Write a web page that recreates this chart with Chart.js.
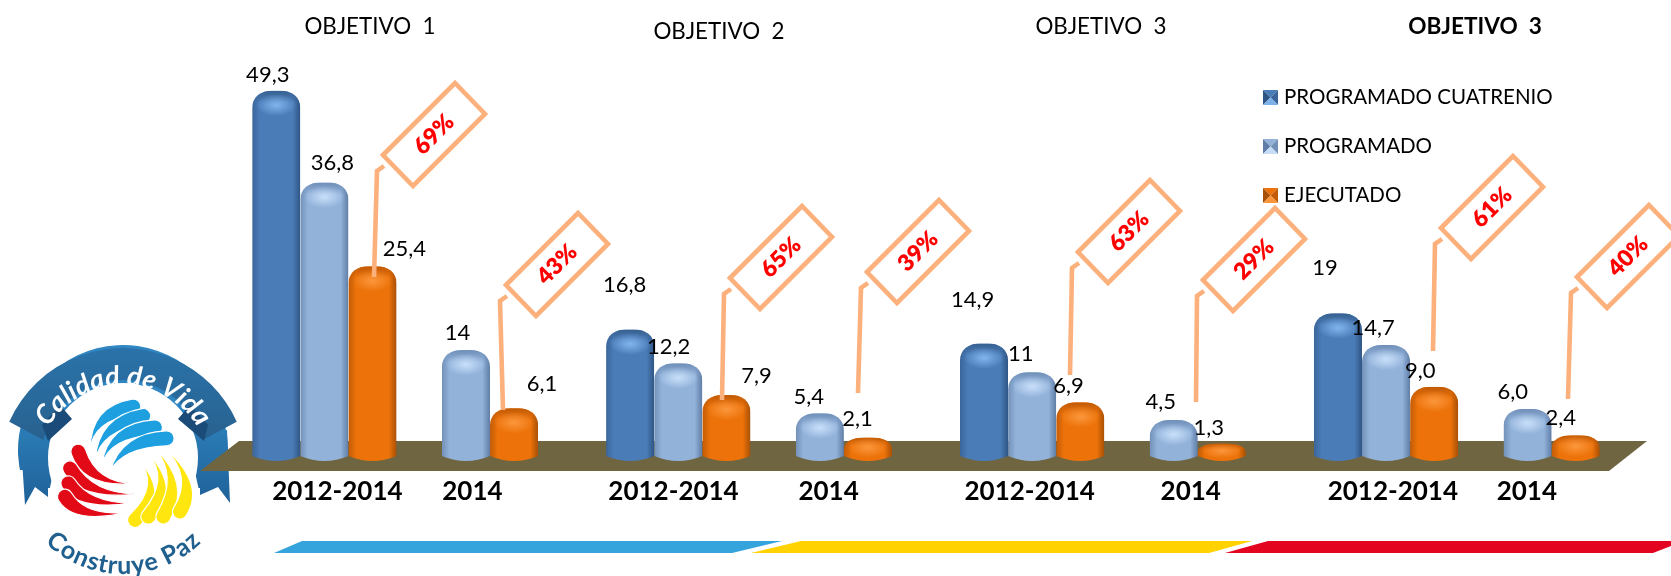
<!DOCTYPE html>
<html>
<head>
<meta charset="utf-8">
<title>Objetivos</title>
<script src="https://cdn.jsdelivr.net/npm/chart.js@4"></script>
<style>
  html, body { margin: 0; padding: 0; background: #fff; }
  canvas { display: block; }
</style>
</head>
<body>
<canvas id="chart" width="1671" height="576"></canvas>
<script>
// Data
const categories = ['2012-2014', '', '2014', '', '', '2012-2014', '', '2014', '', '', '2012-2014', '', '2014', '', '', '2012-2014', '', '2014'];
const programadoCuatrenio = [49.3, null, null, null, null, 16.8, null, null, null, null, 14.9, null, null, null, null, 19, null, null];
const programado = [36.8, null, 14, null, null, 12.2, null, 5.4, null, null, 11, null, 4.5, null, null, 14.7, null, 6.0];
const ejecutado = [25.4, null, 6.1, null, null, 7.9, null, 2.1, null, null, 6.9, null, 1.3, null, null, 9.0, null, 2.4];

const cuatrenioLabels = ['49,3', '16,8', '14,9', '19'];
const programadoLabels = ['36,8', '14', '12,2', '5,4', '11', '4,5', '14,7', '6,0'];
const ejecutadoLabels = ['25,4', '6,1', '7,9', '2,1', '6,9', '1,3', '9,0', '2,4'];
const percentLabels = ['69%', '43%', '65%', '39%', '63%', '29%', '61%', '40%'];
const objetivos = ['OBJETIVO  1', 'OBJETIVO  2', 'OBJETIVO  3', 'OBJETIVO  3'];

// Hand placement of the text boxes, the original slide has them loose
const labelNudges = [
    [[-8.5, -15.6], [-5.6, -44.5], [-11.3, -43.5], [-13, -45]],
    [[8, -19.5], [-8.5, -17], [-9.75, -16], [-11, -16], [-11.5, -18], [-13, -18], [-13, -17], [-14.75, -17]],
    [[31.8, -17], [28, -24], [30, -19], [-10.4, -18.6], [-11.7, -16], [-13, -16], [-14, -16], [-15, -17]]
];
const tickNudges = [13, 6.5, -4.75, 8.75, -2.5, 17, 6.75, -0.75];
const titleSpots = [[370, 27, false], [719, 32, false], [1101, 27, false], [1475, 27, true]];
const callouts = [
    { ax: 383, ay: 155, bx: 374, by: 277 },
    { ax: 506, ay: 285, bx: 503, by: 410 },
    { ax: 730, ay: 278, bx: 722, by: 400 },
    { ax: 867, ay: 272, bx: 858, by: 393 },
    { ax: 1078, ay: 252, bx: 1070, by: 375 },
    { ax: 1203, ay: 280, bx: 1196, by: 402 },
    { ax: 1441, ay: 228, bx: 1433, by: 351 },
    { ax: 1577, ay: 277, bx: 1568, by: 399 }
];

const shades = [
    { base: '#4f81bd', mid: '#4a7cb8', edgeL: '#3b659a', edgeR: '#2f5584', rim: '#37608f', glow: '#7fb2ea' },
    { base: '#95b3d7', mid: '#92b2da', edgeL: '#7391b8', edgeR: '#5f7da6', rim: '#6f8fb8', glow: '#c6ddf8' },
    { base: '#e46c0a', mid: '#ec7209', edgeL: '#c25c08', edgeR: '#a85006', rim: '#c05a06', glow: '#fb953a' }
];

const FONT = 'Lato, Carlito, sans-serif';

function cylinderPath(ctx, el) {
    const left = el.x - el.width / 2, right = el.x + el.width / 2;
    const top = el.y, base = el.base;
    const rx = el.width * 0.42;
    const ry = Math.min(17, (base - top + 8) * 0.5);
    ctx.beginPath();
    ctx.moveTo(left, base + 3);
    ctx.lineTo(left, top + ry);
    ctx.bezierCurveTo(left, top + ry * 0.35, left + rx * 0.45, top, left + rx, top);
    ctx.lineTo(right - rx, top);
    ctx.bezierCurveTo(right - rx * 0.45, top, right, top + ry * 0.35, right, top + ry);
    ctx.lineTo(right, base + 3);
    ctx.quadraticCurveTo(el.x, base + 13, left, base + 3);
    ctx.closePath();
    return ry;
}

function drawCylinder(ctx, el, shade) {
    const left = el.x - el.width / 2, right = el.x + el.width / 2;
    ctx.save();
    const ry = cylinderPath(ctx, el);
    ctx.clip();

    const side = ctx.createLinearGradient(left, 0, right, 0);
    side.addColorStop(0, shade.edgeL);
    side.addColorStop(0.16, shade.mid);
    side.addColorStop(0.55, shade.mid);
    side.addColorStop(0.84, shade.mid);
    side.addColorStop(1, shade.edgeR);
    ctx.fillStyle = side;
    ctx.fillRect(left, el.y, el.width, el.base - el.y + 14);

    // dark cap at the very top
    const cap = ctx.createLinearGradient(0, el.y, 0, el.y + ry * 0.7);
    cap.addColorStop(0, shade.rim);
    cap.addColorStop(1, shade.rim + '00');
    ctx.fillStyle = cap;
    ctx.fillRect(left, el.y, el.width, ry);

    // soft highlight under the cap
    ctx.translate(el.x, el.y + ry * 0.85);
    ctx.scale(1, Math.min(0.55, ry / 24));
    const glow = ctx.createRadialGradient(0, 0, 1, 0, 0, el.width * 0.42);
    glow.addColorStop(0, shade.glow);
    glow.addColorStop(1, shade.glow + '00');
    ctx.fillStyle = glow;
    ctx.beginPath();
    ctx.arc(0, 0, el.width * 0.42, 0, Math.PI * 2);
    ctx.fill();
    ctx.restore();
}

function poly(ctx, pts, color) {
    ctx.beginPath();
    pts.forEach((p, i) => i ? ctx.lineTo(p[0], p[1]) : ctx.moveTo(p[0], p[1]));
    ctx.closePath();
    ctx.fillStyle = color;
    ctx.fill();
}

function textOnArc(ctx, text, cx, cy, r, midAngle, step, upright) {
    // upright true: letters read along the top of the circle
    ctx.textAlign = 'center';
    ctx.textBaseline = 'alphabetic';
    const widths = Array.from(text).map(c => ctx.measureText(c).width);
    const total = widths.reduce((a, b) => a + b, 0) * step;
    let run = -total / 2;
    Array.from(text).forEach((c, i) => {
        const adv = widths[i] * step;
        const a = (run + adv / 2) / r;
        const ang = upright ? midAngle + a : midAngle - a;
        ctx.save();
        ctx.translate(cx + r * Math.cos(ang), cy + r * Math.sin(ang));
        ctx.rotate(upright ? ang + Math.PI / 2 : ang - Math.PI / 2);
        ctx.fillText(c, 0, 0);
        ctx.restore();
        run += adv;
    });
}

// one tapered stroke of the logo, coordinates are in the logo's zoomed frame
function swoosh(ctx, s, color) {
    const z = (p) => [p[0] / 3, p[1] / 3 + 340];
    const t = z(s[0]), c = z(s[1]), e = z(s[2]);
    const dx = e[0] - c[0], dy = e[1] - c[1];
    const len = Math.hypot(dx, dy) || 1;
    const hw = 7.5;
    const nx = -dy / len * hw, ny = dx / len * hw;
    ctx.beginPath();
    ctx.moveTo(t[0], t[1]);
    ctx.quadraticCurveTo(c[0] + nx, c[1] + ny, e[0] + nx, e[1] + ny);
    ctx.arc(e[0], e[1], hw, Math.atan2(ny, nx), Math.atan2(-ny, -nx), true);
    ctx.quadraticCurveTo(c[0] - nx, c[1] - ny, t[0], t[1]);
    ctx.closePath();
    ctx.fillStyle = color;
    ctx.strokeStyle = '#fff';
    ctx.lineWidth = 1.2;
    ctx.fill();
    ctx.stroke();
}

function drawLogo(ctx) {
    ctx.save();
    // medal ring and its two tails
    const ring = ctx.createLinearGradient(0, 400, 0, 510);
    ring.addColorStop(0, '#2f86c2');
    ring.addColorStop(1, '#1f5f96');
    poly(ctx, [[20, 430], [25, 505], [35, 487], [48, 497], [60, 440]], ring);
    poly(ctx, [[227, 430], [230, 503], [218, 487], [200, 495], [188, 440]], ring);
    ctx.fillStyle = ring;
    ctx.beginPath();
    ctx.arc(123, 450, 105, Math.PI * 0.92, Math.PI * 2.08);
    ctx.lineTo(228, 470);
    ctx.lineTo(20, 470);
    ctx.closePath();
    ctx.fill();
    ctx.fillStyle = '#fff';
    ctx.beginPath();
    ctx.arc(123, 458, 75, 0, Math.PI * 2);
    ctx.fill();
    ctx.fillRect(48, 488, 152, 30);

    // banner
    const banner = ctx.createLinearGradient(0, 348, 0, 440);
    banner.addColorStop(0, '#2a73aa');
    banner.addColorStop(1, '#28618f');
    const a0 = Math.atan2(421.7 - 472.6, -113.7);
    const a1 = Math.atan2(421.7 - 472.6, 113.7);
    const b0 = Math.atan2(440 - 463, -80);
    const b1 = Math.atan2(440 - 463, 80);
    ctx.beginPath();
    ctx.arc(123, 472.6, 124.6, a0, a1);
    ctx.arc(123, 463, 83, b1, b0, true);
    ctx.closePath();
    ctx.fillStyle = banner;
    ctx.fill();
    poly(ctx, [[72, 419], [48, 441], [42, 425], [60, 405]], '#1b4b78');
    poly(ctx, [[178, 419], [204, 441], [208, 425], [190, 405]], '#1b4b78');

    ctx.fillStyle = '#fff';
    ctx.font = 'italic 700 27px ' + FONT;
    textOnArc(ctx, 'Calidad de Vida', 123, 472, 87, -Math.PI / 2, 1.0, true);

    ctx.fillStyle = '#20608f';
    ctx.font = '700 25px ' + FONT;
    textOnArc(ctx, 'Construye Paz', 123, 461, 113, Math.PI / 2, 1.08, false);

    [[[270, 330], [275, 220], [400, 200]],
     [[285, 360], [300, 250], [430, 228]],
     [[305, 375], [325, 270], [465, 262]],
     [[330, 395], [365, 300], [500, 295]]].forEach(s => swoosh(ctx, s, '#1e9fe0'));
    [[[410, 350], [500, 450], [405, 540]],
     [[440, 335], [530, 430], [445, 530]],
     [[465, 325], [555, 420], [490, 530]],
     [[490, 320], [600, 420], [540, 515]]].forEach(s => swoosh(ctx, s, '#ffe60f'));
    [[[410, 430], [270, 440], [235, 335]],
     [[405, 462], [260, 470], [210, 385]],
     [[395, 490], [250, 500], [205, 430]],
     [[390, 515], [240, 545], [195, 470]]].forEach(s => swoosh(ctx, s, '#e20a17'));
    ctx.restore();
}

function drawCallout(ctx, c, label) {
    ctx.save();
    ctx.strokeStyle = '#fcb07c';
    ctx.lineWidth = 4.6;
    ctx.lineJoin = 'miter';
    ctx.beginPath();
    ctx.moveTo(c.bx, c.by);
    ctx.lineTo(c.ax - 6, c.ay + 16);
    ctx.lineTo(c.ax + 1, c.ay + 11);
    ctx.stroke();
    ctx.beginPath();
    ctx.moveTo(c.ax, c.ay);
    ctx.lineTo(c.ax + 72, c.ay - 72);
    ctx.lineTo(c.ax + 102, c.ay - 41);
    ctx.lineTo(c.ax + 30, c.ay + 31);
    ctx.closePath();
    ctx.stroke();
    ctx.translate(c.ax + 51, c.ay - 20.5);
    ctx.rotate(-Math.PI / 4);
    ctx.fillStyle = '#ff0000';
    ctx.font = '800 23px ' + FONT;
    ctx.textAlign = 'center';
    ctx.textBaseline = 'middle';
    ctx.fillText(label, 0, 0);
    ctx.restore();
}

const slidePlugin = {
    id: 'slide',
    beforeDatasetsDraw(chart) {
        const ctx = chart.ctx;
        drawLogo(ctx);
        // coloured strip at the bottom
        poly(ctx, [[274, 553], [302, 541], [782, 541], [732, 553]], '#35a4dd');
        poly(ctx, [[751, 553], [801, 541], [1252, 541], [1209, 553]], '#ffd200');
        poly(ctx, [[1225, 553], [1268, 541], [1671, 541], [1671, 546], [1653, 553]], '#e30520');
        // floor of the 3D chart
        poly(ctx, [[239, 441], [1647, 441], [1609, 471], [200, 471]], '#6f6540');
        chart.data.datasets.forEach((ds, i) => {
            chart.getDatasetMeta(i).data.forEach((el, j) => {
                if (ds.data[j] !== null) drawCylinder(ctx, el, shades[i]);
            });
        });
    },
    // the cylinders above replace the flat bars
    beforeDatasetDraw() {
        return false;
    },
    afterDatasetsDraw(chart) {
        const ctx = chart.ctx;
        const x = chart.scales.x;

        callouts.forEach((c, i) => drawCallout(ctx, c, percentLabels[i]));

        ctx.save();
        ctx.textAlign = 'center';
        ctx.textBaseline = 'middle';
        ctx.fillStyle = '#000';

        // value labels
        ctx.font = '22px ' + FONT;
        const texts = [cuatrenioLabels, programadoLabels, ejecutadoLabels];
        chart.data.datasets.forEach((ds, i) => {
            let n = 0;
            chart.getDatasetMeta(i).data.forEach((el, j) => {
                if (ds.data[j] === null) return;
                ctx.fillText(texts[i][n], el.x + labelNudges[i][n][0], el.y + labelNudges[i][n][1]);
                n++;
            });
        });

        // category labels
        ctx.font = '700 26px ' + FONT;
        let t = 0;
        categories.forEach((cat, j) => {
            if (!cat) return;
            ctx.fillText(cat, x.getPixelForValue(j) + tickNudges[t], 492);
            t++;
        });

        // objective titles
        objetivos.forEach((txt, i) => {
            const s = titleSpots[i];
            ctx.font = (s[2] ? '700 22.6px ' : '22.4px ') + FONT;
            ctx.fillText(txt, s[0], s[1]);
        });

        // legend
        ctx.textAlign = 'left';
        ctx.font = '20.5px ' + FONT;
        chart.data.datasets.forEach((ds, i) => {
            const top = 90 + i * 49, left = 1263, size = 15;
            const sh = shades[i];
            const mx = left + size / 2, my = top + size / 2;
            poly(ctx, [[left, top], [left + size, top], [mx, my]], sh.mid);
            poly(ctx, [[left, top], [mx, my], [left, top + size]], sh.edgeR);
            poly(ctx, [[left + size, top], [left + size, top + size], [mx, my]], sh.edgeL);
            poly(ctx, [[left, top + size], [left + size, top + size], [mx, my]], sh.glow);
            ctx.fillStyle = '#000';
            ctx.fillText(ds.label, 1284, top + 7.5);
        });
        ctx.restore();
    }
};

new Chart(document.getElementById('chart').getContext('2d'), {
    type: 'bar',
    data: {
        labels: categories,
        datasets: [
            { label: 'PROGRAMADO CUATRENIO', data: programadoCuatrenio, backgroundColor: shades[0].base },
            { label: 'PROGRAMADO', data: programado, backgroundColor: shades[1].base },
            { label: 'EJECUTADO', data: ejecutado, backgroundColor: shades[2].base }
        ]
    },
    options: {
        responsive: false,
        animation: false,
        events: [],
        layout: { padding: { left: 289, right: 108, top: 12, bottom: 123 } },
        datasets: { bar: { categoryPercentage: 2.04, barPercentage: 1 } },
        scales: {
            x: { display: false, grid: { display: false } },
            y: { display: false, min: 0, max: 60, grid: { display: false } }
        },
        plugins: {
            legend: { display: false },
            tooltip: { enabled: false },
            title: { display: false }
        }
    },
    plugins: [slidePlugin]
});
</script>
</body>
</html>
